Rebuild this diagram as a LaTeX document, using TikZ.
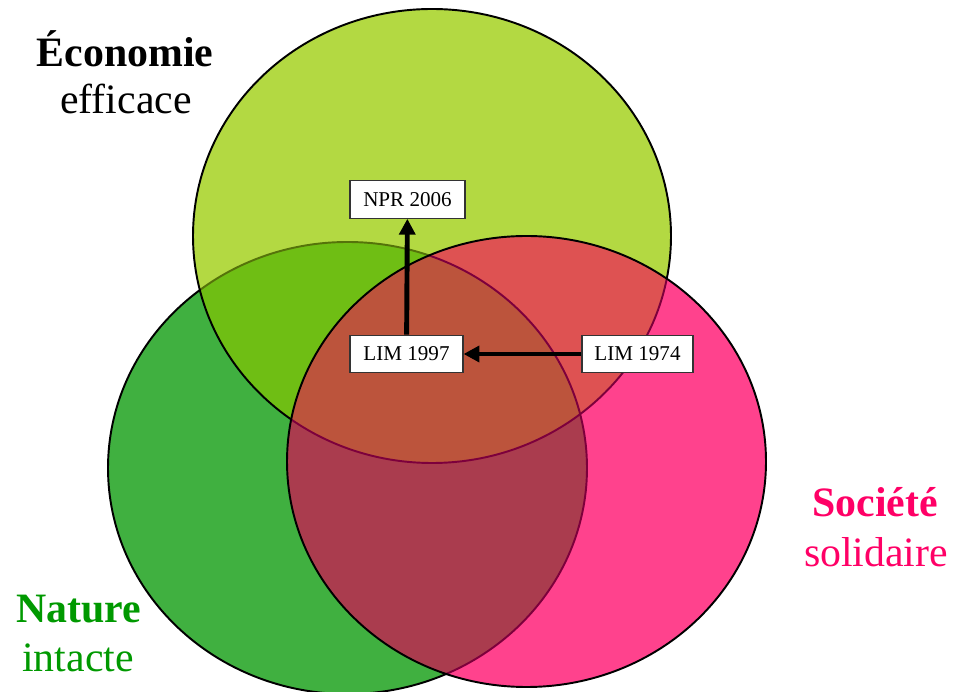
\documentclass[tikz,border=0pt]{standalone}
\usepackage{fontspec}
\setmainfont{Liberation Serif}
\usetikzlibrary{arrows.meta}

\definecolor{ecogreen}{RGB}{153,204,0}
\definecolor{natgreen}{RGB}{0,153,0}
\definecolor{socpink}{RGB}{255,0,102}
% region fills
\definecolor{natonly}{RGB}{64,176,64}
\definecolor{ecoonly}{RGB}{179,217,66}
\definecolor{soconly}{RGB}{255,66,141}
\definecolor{econat}{RGB}{111,190,20}
\definecolor{ecosoc}{RGB}{222,82,82}
\definecolor{natsoc}{RGB}{170,60,78}
\definecolor{allsets}{RGB}{188,84,60}
% outlines seen through a set
\definecolor{olivelin}{RGB}{85,115,10}
\definecolor{maroonlin}{RGB}{125,0,60}

\newcommand{\natset}{(6.95, -9.36) ellipse (4.79cm and 4.52cm)}
\newcommand{\ecoset}{(8.64, -4.72) ellipse (4.78cm and 4.54cm)}
\newcommand{\socset}{(10.53, -9.23) ellipse (4.79cm and 4.51cm)}

\tikzset{
  datebox/.style={draw=black!80,fill=white,line width=0.6pt,inner sep=2pt,
    minimum width=2.26cm,minimum height=0.75cm,font=\fontsize{12}{14}\selectfont},
  bigarrow/.style={line width=2.8pt,-{Triangle[length=9pt,width=9pt]}},
  setline/.style={line width=1.1pt},
  titletext/.style={anchor=base,font=\fontsize{23.8}{27}\selectfont\bfseries},
  subtext/.style={anchor=base,font=\fontsize{23.8}{27}\selectfont}
}

\begin{document}
\begin{tikzpicture}
            \useasboundingbox (0,0) rectangle (19.34,-13.84);
            \clip (0,0) rectangle (19.34,-13.84);

            % nature
            \fill[natonly] \natset;
            \draw[setline] \natset;

            % economie on top of nature
            \fill[ecoonly] \ecoset;
            \begin{scope}
              \clip \natset;
              \fill[econat] \ecoset;
            \end{scope}
            \begin{scope}
              \clip \ecoset;
              \draw[setline,olivelin] \natset;
            \end{scope}
            \draw[setline] \ecoset;

            % societe on top of both
            \fill[soconly] \socset;
            \begin{scope}
              \clip \socset;
              \begin{scope}
                \clip \ecoset;
                \fill[ecosoc] \socset;
              \end{scope}
              \begin{scope}
                \clip \natset;
                \fill[natsoc] \socset;
                \clip \ecoset;
                \fill[allsets] \socset;
              \end{scope}
              \draw[setline,maroonlin] \natset;
              \draw[setline,maroonlin] \ecoset;
            \end{scope}
            \draw[setline] \socset;

            \node[titletext] (EcoT) at (2.50, -1.33) {Économie};
            \node[subtext] (EcoS) at (2.52, -2.27) {efficace};

            \node[titletext,text=natgreen] (NatT) at (1.58, -12.46) {Nature};
            \node[subtext,text=natgreen] (NatS) at (1.56, -13.44) {intacte};

            \node[titletext,text=socpink] (SocT) at (17.50, -10.34) {Société};
            \node[subtext,text=socpink] (SocS) at (17.52, -11.34) {solidaire};

            % the laws
            \node[datebox,minimum width=2.3cm] (NPR) at (8.15, -3.99) {NPR 2006};
            \node[datebox] (LIMa) at (8.13, -7.08) {LIM 1997};
            \node[datebox,minimum width=2.22cm] (LIMb) at (12.75, -7.08) {LIM 1974};

            \draw[bigarrow] (LIMb) -- (LIMa);
            \draw[bigarrow] (LIMa) -- (NPR);

        \end{tikzpicture}
\end{document}
